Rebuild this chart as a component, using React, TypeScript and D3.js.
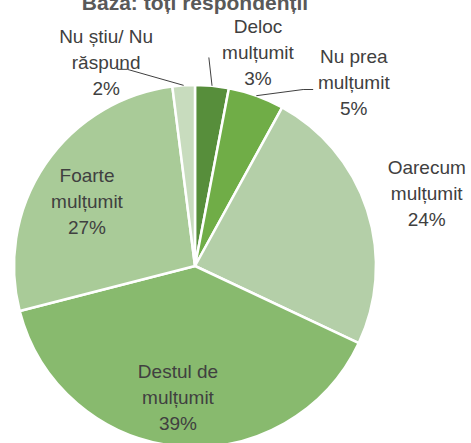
import React from "react";
import * as d3 from "d3";

const categories = [
  "Deloc mulțumit",
  "Nu prea mulțumit",
  "Oarecum mulțumit",
  "Destul de mulțumit",
  "Foarte mulțumit",
  "Nu știu/ Nu răspund",
];
const values = [3, 5, 24, 39, 27, 2];
const labelLines = [
  ["Deloc", "mulțumit", "3%"],
  ["Nu prea", "mulțumit", "5%"],
  ["Oarecum", "mulțumit", "24%"],
  ["Destul de", "mulțumit", "39%"],
  ["Foarte", "mulțumit", "27%"],
  ["Nu știu/ Nu", "răspund", "2%"],
];
const colors = ["#578e3b", "#70ad47", "#b4cfa8", "#88ba6e", "#a9cb98", "#c8dcbe"];
const title = "Baza: toți respondenții";

// label placement (polar: angle in degrees clockwise from top, distance from centre)
const labelPolar = [
  { a: 16.4, r: 223 },
  { a: 40.8, r: 243 },
  { a: 72.5, r: 243 },
  { a: 187.4, r: 132 },
  { a: 301, r: 126 },
  { a: -23.6, r: 222 },
];
// leader lines: [elbow angle, elbow radius, end dx] or null
const leaders: ({ a: number; r: number; dx: number } | null)[] = [
  { a: 3.8, r: 209, dx: 0 },
  { a: 31.5, r: 207, dx: 10 },
  null,
  null,
  null,
  { a: -19, r: 208, dx: -10 },
];

const W = 471;
const H = 443;
const cx = 195;
const cy = 266;
const R = 181;
const fontFamily = "'Liberation Sans', Arial, sans-serif";

export default function App() {
  const pie = d3
    .pie<number>()
    .sort(null)
    .value((d) => d)(values);
  const arc = d3.arc<d3.PieArcDatum<number>>().innerRadius(0).outerRadius(R);
  const polar = (deg: number, r: number): [number, number] => {
    const t = (deg * Math.PI) / 180;
    return [r * Math.sin(t), -r * Math.cos(t)];
  };
  const lineH = 26;
  return (
    <svg
      width={W}
      height={H}
      style={{ position: "absolute", left: 0, top: 0, background: "#fff" }}
    >
      <text
        x={cx}
        y={10}
        textAnchor="middle"
        fontFamily={fontFamily}
        fontWeight="bold"
        fontSize={21}
        fill="#595959"
      >
        {title}
      </text>
      <g transform={`translate(${cx},${cy})`}>
        {pie.map((d, i) => (
          <path
            key={categories[i]}
            d={arc(d) || ""}
            fill={colors[i]}
            stroke="#ffffff"
            strokeWidth={2.5}
            strokeLinejoin="round"
          />
        ))}
        {pie.map((d, i) => {
          const L = leaders[i];
          if (!L) return null;
          const mid = (d.startAngle + d.endAngle) / 2;
          const p0: [number, number] = [R * Math.sin(mid), -R * Math.cos(mid)];
          const p1 = polar(L.a, L.r);
          const p2: [number, number] = [p1[0] + L.dx, p1[1]];
          return (
            <polyline
              key={"l" + i}
              points={[p0, p1, p2].map((p) => p.join(",")).join(" ")}
              fill="none"
              stroke="#404040"
              strokeWidth={1}
            />
          );
        })}
        {pie.map((d, i) => {
          const [lx, ly] = polar(labelPolar[i].a, labelPolar[i].r);
          const lines = labelLines[i];
          return (
            <text
              key={"t" + i}
              textAnchor="middle"
              fontFamily={fontFamily}
              fontSize={19}
              fill="#404040"
            >
              {lines.map((s, j) => (
                <tspan
                  key={j}
                  x={lx}
                  y={ly + (j - (lines.length - 1) / 2) * lineH}
                  dy="0.35em"
                >
                  {s}
                </tspan>
              ))}
            </text>
          );
        })}
      </g>
    </svg>
  );
}
